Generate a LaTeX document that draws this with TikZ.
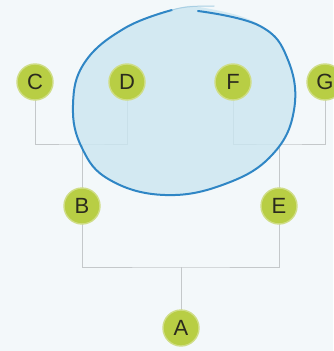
\documentclass[tikz,border=0pt]{standalone}
\usepackage{fontspec}
\setmainfont{Liberation Sans}
\begin{document}
\begin{tikzpicture}[x=1pt,y=-1pt,
  leaf/.style={circle,fill=nodegreen,draw=nodering,line width=1.4pt,minimum size=36pt,inner sep=0pt,font=\fontsize{22}{22}\selectfont,text=nodetext},
  conn/.style={draw=linegray,line width=1pt}]
\definecolor{bg}{HTML}{F3F8FA}
\definecolor{nodegreen}{HTML}{B8CE44}
\definecolor{nodering}{HTML}{CFDD85}
\definecolor{nodetext}{HTML}{2B2B1E}
\definecolor{linegray}{HTML}{C4C8CA}
\definecolor{blobfill}{HTML}{CBE6F1}
\definecolor{blobline}{HTML}{2F86C5}
\definecolor{blobfaint}{HTML}{A9CFE3}
\fill[bg] (0,0) rectangle (333,351);
\useasboundingbox (0,0) rectangle (333,351);
% junctions
\coordinate (jl) at (82,144);
\coordinate (jr) at (279,144);
\coordinate (jb) at (181,267);
% node positions
\path (35,82) coordinate (pC) (127,82) coordinate (pD) (233,82) coordinate (pF) (325,82) coordinate (pG)
      (82,206) coordinate (pB) (279,206) coordinate (pE) (181,328) coordinate (pA);
% connectors
\draw[conn] (pC) |- (jl) -| (pD);
\draw[conn] (jl) -- (pB);
\draw[conn] (pF) |- (jr) -| (pG);
\draw[conn] (jr) -- (pE);
\draw[conn] (pB) |- (jb) -| (pE);
\draw[conn] (jb) -- (pA);
% blob
\fill[blobfill,opacity=0.8] plot[smooth cycle,tension=0.7] coordinates {(205,8) (260,25) (288,60) (294,110) (272,155) (225,184) (165,195) (110,180) (82,148) (73,105) (85,62) (125,28) (175,9)};
\draw[blobline,line width=2pt,line cap=round] plot[smooth,tension=0.7] coordinates {(198,11) (260,26) (288,60) (294,110) (272,155) (225,184) (165,195) (110,180) (82,148) (73,105) (85,62) (125,28) (172,10)};
\draw[blobfaint,line width=1pt,line cap=round] (172,10) .. controls (185,6) and (200,6) .. (214,6);
% nodes
\node[leaf] (C) at (pC) {C};
\node[leaf] (D) at (pD) {D};
\node[leaf] (F) at (pF) {F};
\node[leaf] (G) at (pG) {G};
\node[leaf] (B) at (pB) {B};
\node[leaf] (E) at (pE) {E};
\node[leaf] (A) at (pA) {A};
\end{tikzpicture}
\end{document}
